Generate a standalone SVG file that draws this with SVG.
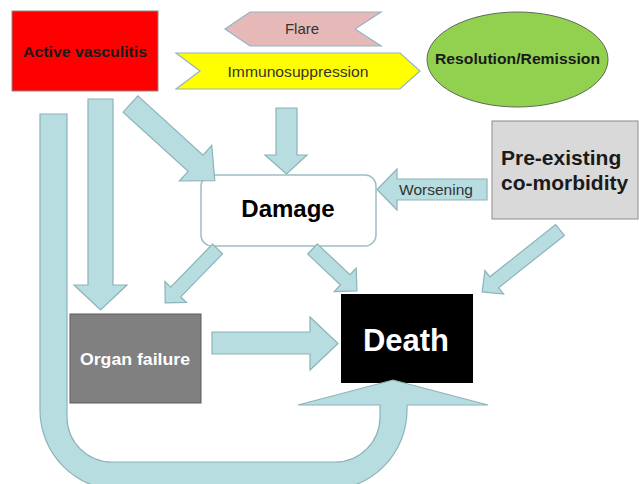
<svg xmlns="http://www.w3.org/2000/svg" width="639" height="484" viewBox="0 0 639 484">
<style>
.arrow{fill:#b7dde1;stroke:#8cb3b8;stroke-width:1.2;stroke-linejoin:miter}
.t{font-family:"Liberation Sans",Arial,sans-serif;text-anchor:middle}
.b{font-weight:bold}
</style>
<rect width="639" height="484" fill="#ffffff"/>
<g id="active-vasculitis">
<rect x="12" y="11" width="146" height="80" fill="#ff0000" stroke="#8a8a8a" stroke-width="1"/>
<text class="t b" x="85" y="57" font-size="14" textLength="124" lengthAdjust="spacingAndGlyphs" fill="#1a1a1a">Active vasculitis</text>
</g>
<g id="flare">
<polygon points="225,29 250,12 381,12 355,29 381,46 250,46" fill="#e6b9b8" stroke="#93b3c6" stroke-width="1.2"/>
<text class="t" x="302" y="34" font-size="15" fill="#333">Flare</text>
</g>
<g id="immunosuppression">
<polygon points="176,53 400,53 420,71 400,89 176,89 200,71" fill="#ffff00" stroke="#93b3c6" stroke-width="1.2"/>
<text class="t" x="298" y="77" font-size="15" textLength="141" lengthAdjust="spacingAndGlyphs" fill="#333">Immunosuppression</text>
</g>
<g id="resolution">
<ellipse cx="517.5" cy="59.5" rx="90.5" ry="47.5" fill="#92d050" stroke="#5f6b55" stroke-width="1"/>
<text class="t b" x="517.5" y="64" font-size="15.5" textLength="165" lengthAdjust="spacingAndGlyphs" fill="#1a1a1a">Resolution/Remission</text>
</g>
<g id="damage">
<rect x="201" y="175" width="175" height="71" rx="11" ry="11" fill="#ffffff" stroke="#9dbfc3" stroke-width="1.5"/>
<text class="t b" x="288" y="217" font-size="24" fill="#000">Damage</text>
</g>
<g id="comorbidity">
<rect x="492" y="121" width="146" height="98" fill="#d9d9d9" stroke="#8c8c8c" stroke-width="1"/>
<text class="t b" x="501" y="165" font-size="21" style="text-anchor:start" fill="#1a1a1a">Pre-existing</text>
<text class="t b" x="501" y="190" font-size="21" style="text-anchor:start" fill="#1a1a1a">co-morbidity</text>
</g>
<g id="organ-failure">
<rect x="70" y="314" width="131" height="89" fill="#808080" stroke="#5a5a5a" stroke-width="1"/>
<text class="t b" x="135" y="365" font-size="16.5" textLength="110" lengthAdjust="spacingAndGlyphs" fill="#ffffff">Organ failure</text>
</g>
<g id="death">
<rect x="341" y="294" width="132" height="89" fill="#000000"/>
<text class="t b" x="406" y="351" font-size="31" fill="#ffffff">Death</text>
</g>
<g id="connectors">
<path class="arrow" d="M40,114 L67,114 L67,417 A45,45 0 0 0 112,462 L335,462 A45,45 0 0 0 380,417 L380,405 L298,405 L393,380 L488,405 L407,405 L407,410 A80,80 0 0 1 327,490 L120,490 A80,80 0 0 1 40,410 Z"/>
<polygon class="arrow" points="88,99 113,99 113,285 127,285 100.5,310 74,285 88,285"/>
<polygon class="arrow" points="276,108 297,108 297,155 307,155 286.5,174 265,155 276,155"/>
<polygon class="arrow" points="487,179 487,200 397,200 397,210 377,189.5 397,169 397,179"/>
<polygon class="arrow" points="212,332 310,332 310,317 338,343.5 310,370 310,354 212,354"/>
<path class="arrow" transform="translate(130.5,104) rotate(42.3)" d="M0,-11 L88,-11 L88,-24 L114,0 L88,24 L88,11 L0,11 Z"/>
<path class="arrow" transform="translate(217.5,249) rotate(134.2)" d="M0,-7 L60,-7 L60,-15 L75,0 L60,15 L60,7 L0,7 Z"/>
<path class="arrow" transform="translate(312.5,249) rotate(43.3)" d="M0,-7 L45,-7 L45,-16 L61,0 L45,16 L45,7 L0,7 Z"/>
<path class="arrow" transform="translate(560,230) rotate(141.5)" d="M0,-7 L84,-7 L84,-15 L99.5,0 L84,15 L84,7 L0,7 Z"/>
<text class="t" x="436" y="195" font-size="15" textLength="74" lengthAdjust="spacingAndGlyphs" fill="#333">Worsening</text>
</g>
</svg>
